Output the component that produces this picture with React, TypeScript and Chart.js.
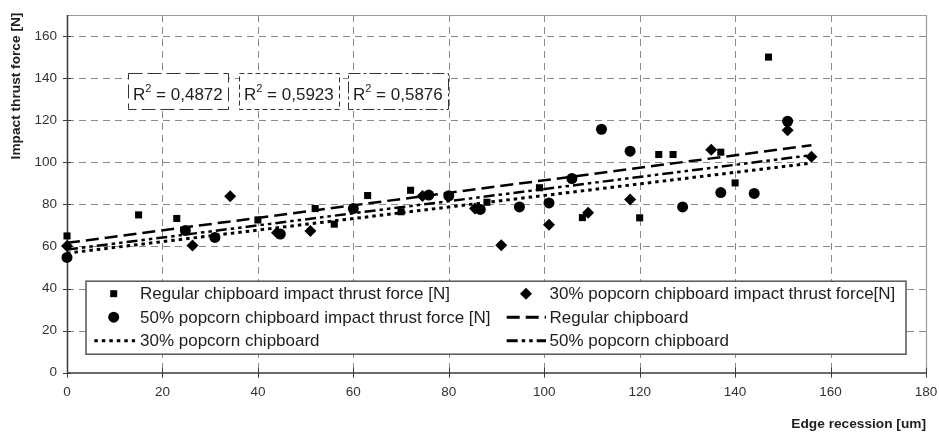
import React, { useEffect, useRef } from 'react';
import { Chart, registerables } from 'chart.js';

Chart.register(...registerables);

// ---- data ----
const xRegular = [0, 15, 23, 40, 52, 56, 63, 70, 72, 88, 99, 108, 120, 124, 127, 137, 140, 147];
const yRegular = [65, 75, 73.3, 72.6, 78, 70.6, 84.2, 76.5, 86.7, 81, 87.9, 73.7, 73.6, 103.7, 103.7, 104.8, 90.2, 150];

const x30 = [0, 26.3, 34.2, 44, 51, 74.5, 85.5, 91, 101, 109.2, 118, 135, 151, 156];
const y30 = [60.2, 60.5, 83.9, 66.5, 67.4, 84, 78, 60.6, 70.3, 76, 82.3, 105.9, 115.2, 102.6];

const x50 = [0, 24.8, 31, 44.7, 60, 75.8, 80, 86.6, 94.8, 101, 105.8, 112, 118, 129, 137, 144, 151];
const y50 = [54.8, 67.6, 64.3, 65.9, 78, 84.4, 84.1, 77.6, 78.8, 80.7, 92.3, 115.7, 105.3, 78.8, 85.6, 85.2, 119.5];

const trendX = [0, 156];
const trendRegular = [61.7, 108.1];
const trend30 = [56.8, 99.6];
const trend50 = [58.5, 103.4];

const xTicks = [0, 20, 40, 60, 80, 100, 120, 140, 160, 180];
const yTicks = [0, 20, 40, 60, 80, 100, 120, 140, 160];

const r2Labels = ['0,4872', '0,5923', '0,5876'];
const legendLabels = [
  'Regular chipboard impact thrust force [N]',
  '30% popcorn chipboard impact thrust force[N]',
  '50% popcorn chipboard impact thrust force [N]',
  'Regular chipboard',
  '30% popcorn chipboard',
  '50% popcorn chipboard',
];
const xTitle = 'Edge recession [um]';
const yTitle = 'Impact thrust force [N]';

const FONT = '"Liberation Sans", Arial, Helvetica, sans-serif';
const DASH_REG = [13, 6];
const DASH_30 = [3.5, 4];
const DASH_50 = [11, 4, 3.5, 4, 3.5, 4];

const pts = (xs: number[], ys: number[]) => xs.map((x, i) => ({ x, y: ys[i] }));

function drawMarker(ctx: CanvasRenderingContext2D, kind: string, x: number, y: number) {
  ctx.fillStyle = '#000';
  ctx.beginPath();
  if (kind === 'rect') {
    ctx.rect(x - 3.5, y - 3.5, 7, 7);
  } else if (kind === 'circle') {
    ctx.arc(x, y, 5.5, 0, Math.PI * 2);
  } else {
    ctx.moveTo(x, y - 6);
    ctx.lineTo(x + 6, y);
    ctx.lineTo(x, y + 6);
    ctx.lineTo(x - 6, y);
    ctx.closePath();
  }
  ctx.fill();
}

function drawSample(ctx: CanvasRenderingContext2D, dash: number[], x1: number, x2: number, y: number) {
  ctx.save();
  ctx.strokeStyle = '#000';
  ctx.lineWidth = 3;
  ctx.setLineDash(dash);
  ctx.beginPath();
  ctx.moveTo(x1, y);
  ctx.lineTo(x2, y);
  ctx.stroke();
  ctx.restore();
}

const zeroPad = (s: any) => {
  s.paddingLeft = 0;
  s.paddingRight = 0;
  s.paddingTop = 0;
  s.paddingBottom = 0;
};

const decor = {
  id: 'decor',
  beforeDatasetsDraw(chart: any) {
    const { ctx, chartArea: a, scales } = chart;
    const xs = scales.x;
    const ys = scales.y;
    ctx.save();
    // grid
    ctx.strokeStyle = '#8a8a8a';
    ctx.lineWidth = 1;
    ctx.setLineDash([7, 5]);
    for (const v of yTicks) {
      if (v === 0) continue;
      const py = Math.round(ys.getPixelForValue(v)) + 0.5;
      ctx.beginPath();
      ctx.moveTo(a.left, py);
      ctx.lineTo(a.right, py);
      ctx.stroke();
    }
    for (const v of xTicks) {
      if (v === 0 || v === 180) continue;
      const px = Math.round(xs.getPixelForValue(v)) + 0.5;
      ctx.beginPath();
      ctx.moveTo(px, a.top);
      ctx.lineTo(px, a.bottom);
      ctx.stroke();
    }
    ctx.setLineDash([]);
    // top / right border
    ctx.strokeStyle = '#9a9a9a';
    ctx.lineWidth = 1.2;
    ctx.beginPath();
    ctx.moveTo(a.left, Math.round(a.top) + 0.5);
    ctx.lineTo(Math.round(a.right) + 0.5, Math.round(a.top) + 0.5);
    ctx.lineTo(Math.round(a.right) + 0.5, a.bottom);
    ctx.stroke();
    // axes
    ctx.strokeStyle = '#3a3a3a';
    ctx.lineWidth = 1.5;
    ctx.beginPath();
    ctx.moveTo(Math.round(a.left) + 0.5, a.top);
    ctx.lineTo(Math.round(a.left) + 0.5, a.bottom);
    ctx.moveTo(a.left, Math.round(a.bottom));
    ctx.lineTo(a.right, Math.round(a.bottom));
    ctx.stroke();
    // tick marks
    ctx.lineWidth = 1;
    ctx.beginPath();
    for (const v of yTicks) {
      const py = Math.round(ys.getPixelForValue(v)) + 0.5;
      ctx.moveTo(a.left - 4, py);
      ctx.lineTo(a.left + 4, py);
    }
    for (const v of xTicks) {
      const px = Math.round(xs.getPixelForValue(v)) + 0.5;
      ctx.moveTo(px, a.bottom - 5);
      ctx.lineTo(px, a.bottom + 5);
    }
    ctx.stroke();
    ctx.restore();
  },
  afterDraw(chart: any) {
    const { ctx, chartArea: a } = chart;
    ctx.save();
    // R² boxes
    const boxes = [
      { x: 128, w: 100, dash: [14, 5] },
      { x: 239, w: 100, dash: [5, 3] },
      { x: 348, w: 100, dash: [12, 3, 3, 3] },
    ];
    boxes.forEach((b, i) => {
      const top = a.top + 58;
      const h = 36;
      ctx.fillStyle = '#fff';
      ctx.fillRect(b.x, top, b.w, h);
      ctx.strokeStyle = '#333';
      ctx.lineWidth = 1;
      ctx.setLineDash(b.dash);
      ctx.strokeRect(b.x + 0.5, top + 0.5, b.w, h);
      ctx.setLineDash([]);
      ctx.fillStyle = '#1e1e1e';
      ctx.textBaseline = 'alphabetic';
      ctx.textAlign = 'left';
      const base = top + 27;
      let tx = b.x + 5;
      ctx.font = `17px ${FONT}`;
      ctx.fillText('R', tx, base);
      tx += ctx.measureText('R').width;
      ctx.font = `11px ${FONT}`;
      ctx.fillText('2', tx, base - 8);
      tx += ctx.measureText('2').width;
      ctx.font = `17px ${FONT}`;
      ctx.fillText(' = ' + r2Labels[i], tx, base);
    });

    // legend
    const lx = a.left + 19;
    const ly = a.bottom - 91.5;
    const lw = 820;
    const lh = 73;
    ctx.fillStyle = '#fff';
    ctx.fillRect(lx, ly, lw, lh);
    ctx.strokeStyle = '#555';
    ctx.lineWidth = 1.5;
    ctx.strokeRect(lx, ly, lw, lh);
    const rows = [ly + 12.5, ly + 36, ly + 59.5];
    const c1m = a.left + 46.7;
    const c1t = a.left + 73;
    const c2m = a.left + 459;
    const c2t = a.left + 482.5;
    ctx.font = `17px ${FONT}`;
    ctx.fillStyle = '#1e1e1e';
    ctx.textBaseline = 'middle';
    ctx.textAlign = 'left';
    drawMarker(ctx, 'rect', c1m, rows[0]);
    drawMarker(ctx, 'rectRot', c2m, rows[0]);
    drawMarker(ctx, 'circle', c1m, rows[1]);
    drawSample(ctx, DASH_REG, a.left + 439.7, a.left + 479, rows[1]);
    drawSample(ctx, DASH_30, a.left + 27.3, a.left + 68, rows[2]);
    drawSample(ctx, DASH_50, a.left + 439.7, a.left + 479, rows[2]);
    ctx.fillStyle = '#1e1e1e';
    ctx.fillText(legendLabels[0], c1t, rows[0] + 1);
    ctx.fillText(legendLabels[1], c2t, rows[0] + 1);
    ctx.fillText(legendLabels[2], c1t, rows[1] + 1);
    ctx.fillText(legendLabels[3], c2t, rows[1] + 1);
    ctx.fillText(legendLabels[4], c1t, rows[2] + 1);
    ctx.fillText(legendLabels[5], c2t, rows[2] + 1);

    // axis titles
    ctx.font = `bold 13.7px ${FONT}`;
    ctx.fillStyle = '#1e1e1e';
    ctx.textAlign = 'right';
    ctx.textBaseline = 'middle';
    ctx.fillText(xTitle, a.right, 424);
    ctx.save();
    ctx.translate(16, 86);
    ctx.rotate(-Math.PI / 2);
    ctx.textAlign = 'center';
    ctx.fillText(yTitle, 0, 0);
    ctx.restore();
    ctx.restore();
  },
};

export default function App() {
  const ref = useRef<HTMLCanvasElement>(null);
  useEffect(() => {
    const canvas = ref.current;
    if (!canvas) return;
    const chart = new Chart(canvas, {
      type: 'scatter',
      data: {
        datasets: [
          {
            label: legendLabels[0],
            data: pts(xRegular, yRegular),
            pointStyle: 'rect',
            pointRadius: 5,
            backgroundColor: '#000',
            borderColor: '#000',
            borderWidth: 0,
            clip: false,
          },
          {
            label: legendLabels[1],
            data: pts(x30, y30),
            pointStyle: 'rectRot',
            pointRadius: 6,
            backgroundColor: '#000',
            borderColor: '#000',
            borderWidth: 0,
            clip: false,
          },
          {
            label: legendLabels[2],
            data: pts(x50, y50),
            pointStyle: 'circle',
            pointRadius: 5.5,
            backgroundColor: '#000',
            borderColor: '#000',
            borderWidth: 0,
            clip: false,
          },
          {
            label: legendLabels[3],
            data: pts(trendX, trendRegular),
            showLine: true,
            pointRadius: 0,
            borderColor: '#000',
            borderWidth: 2.5,
            borderDash: DASH_REG,
          },
          {
            label: legendLabels[4],
            data: pts(trendX, trend30),
            showLine: true,
            pointRadius: 0,
            borderColor: '#000',
            borderWidth: 3,
            borderDash: DASH_30,
          },
          {
            label: legendLabels[5],
            data: pts(trendX, trend50),
            showLine: true,
            pointRadius: 0,
            borderColor: '#000',
            borderWidth: 2.5,
            borderDash: DASH_50,
          },
        ],
      },
      options: {
        responsive: false,
        animation: false,
        devicePixelRatio: 1,
        layout: { padding: { top: 15, right: 13, left: 0, bottom: 0 } },
        plugins: { legend: { display: false }, tooltip: { enabled: false } },
        scales: {
          x: {
            type: 'linear',
            min: 0,
            max: 180,
            grid: { display: false, drawTicks: false },
            border: { display: false },
            ticks: {
              stepSize: 20,
              padding: 11,
              color: '#333',
              font: { family: FONT, size: 13.5 },
              maxRotation: 0,
            },
            afterBuildTicks: (s: any) => {
              s.ticks = xTicks.map((v) => ({ value: v }));
            },
            afterFit: (s: any) => {
              s.height = 59.3;
              zeroPad(s);
            },
          },
          y: {
            type: 'linear',
            min: 0,
            max: 170,
            grid: { display: false, drawTicks: false },
            border: { display: false },
            ticks: {
              stepSize: 20,
              padding: 10,
              color: '#333',
              font: { family: FONT, size: 13.5 },
            },
            afterBuildTicks: (s: any) => {
              s.ticks = yTicks.map((v) => ({ value: v }));
            },
            afterFit: (s: any) => {
              s.width = 67;
              zeroPad(s);
            },
          },
        },
      },
      plugins: [decor],
    } as any);
    return () => chart.destroy();
  }, []);
  return (
    <div style={{ position: 'absolute', left: 0, top: 0, width: 939, height: 432, background: '#fff' }}>
      <canvas ref={ref} width={939} height={432} style={{ display: 'block' }} />
    </div>
  );
}
